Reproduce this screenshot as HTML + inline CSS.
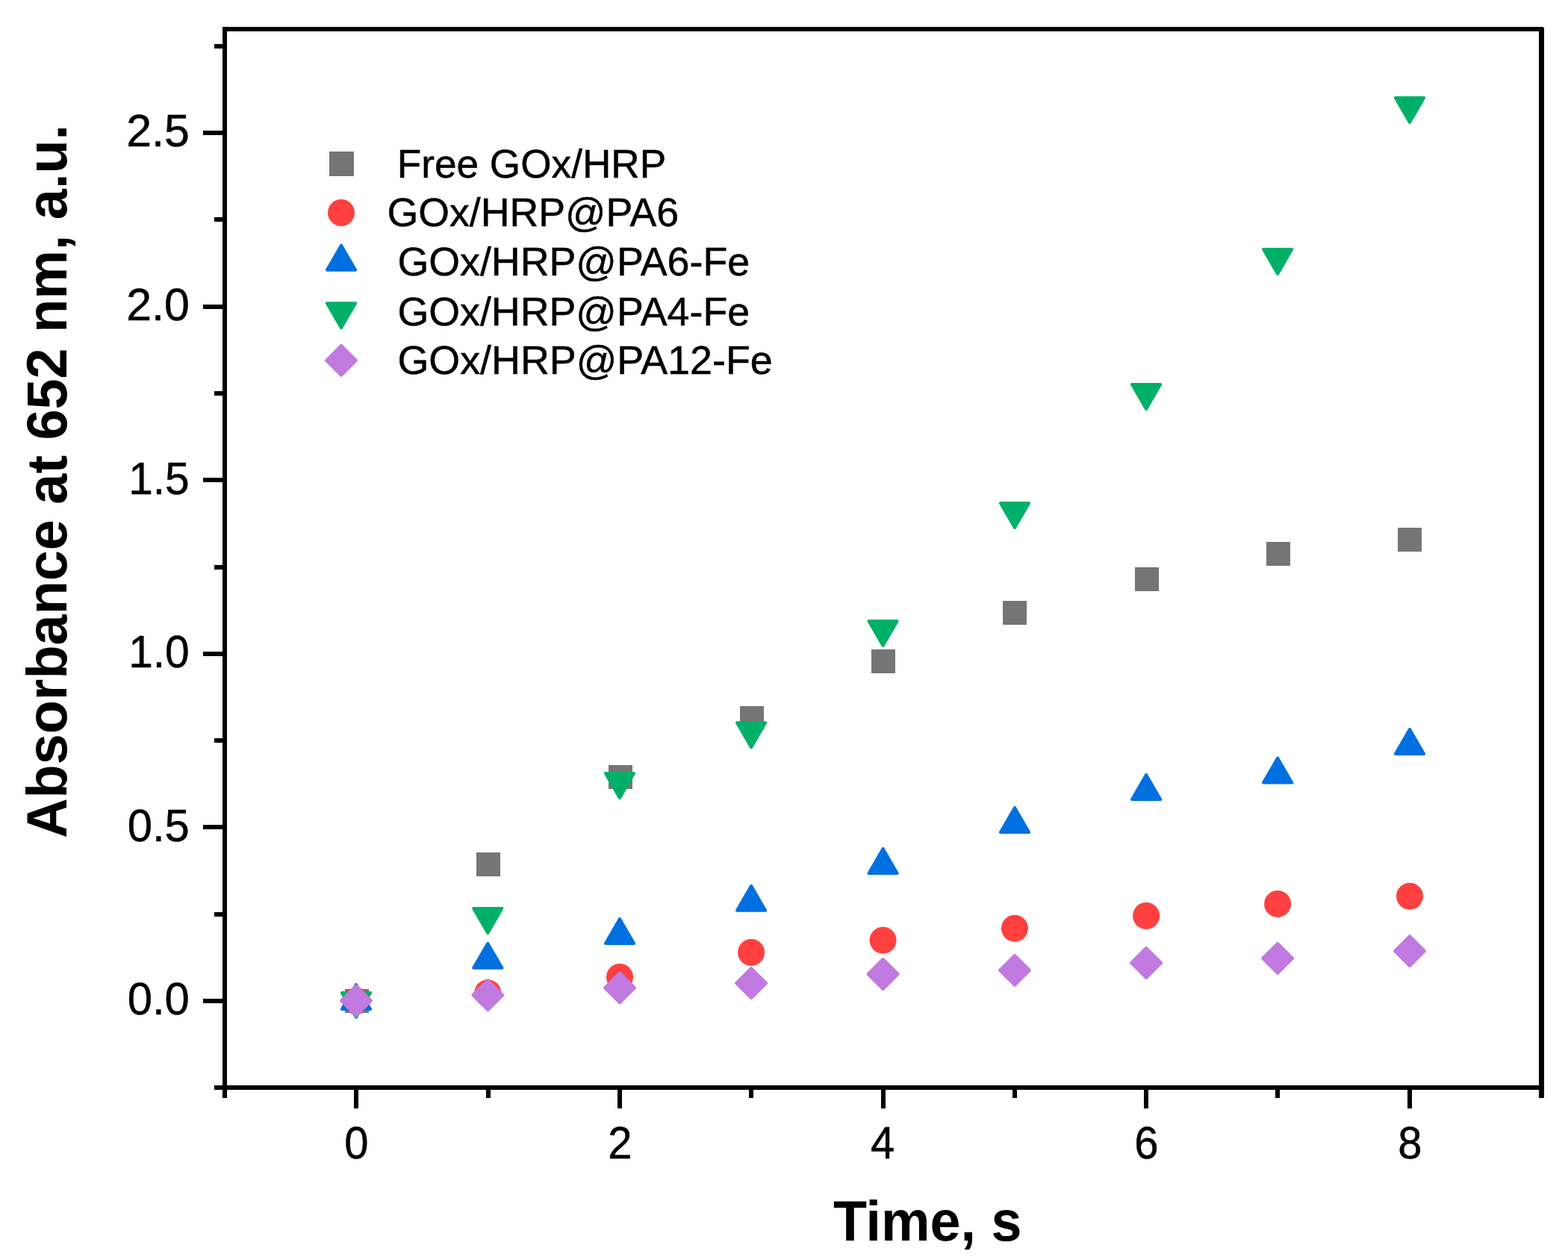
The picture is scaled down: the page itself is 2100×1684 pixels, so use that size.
<!DOCTYPE html>
<html lang="en"><head><meta charset="utf-8"><title>Absorbance at 652 nm vs Time</title>
<style>
html,body{margin:0;padding:0;background:#ffffff;}
body{width:2100px;height:1684px;}
svg{display:block;}
text{font-family:"Liberation Sans",sans-serif;fill:#000;}
.tick{font-size:60.4px;stroke:#000;stroke-width:0.5px;}
.leg text{stroke:#000;stroke-width:0.5px;}
.leg{font-size:54.5px;}
.title{font-size:76.5px;font-weight:bold;}
</style></head><body>
<svg width="2100" height="1684" viewBox="0 0 2100 1684">
<rect x="0" y="0" width="2100" height="1684" fill="#ffffff"/>
<g fill="#000" shape-rendering="crispEdges">
<rect x="298" y="36" width="6" height="1435"/>
<rect x="2061" y="37" width="7" height="1434"/>
<rect x="298" y="36" width="1769" height="6"/>
<rect x="287" y="1454" width="1781" height="6"/>
<rect x="272" y="1338" width="27" height="6"/>
<rect x="272" y="1105" width="27" height="6"/>
<rect x="272" y="873" width="27" height="6"/>
<rect x="272" y="640" width="27" height="6"/>
<rect x="272" y="408" width="27" height="6"/>
<rect x="272" y="175" width="27" height="6"/>
<rect x="287" y="1222" width="12" height="6"/>
<rect x="287" y="989" width="12" height="6"/>
<rect x="287" y="757" width="12" height="6"/>
<rect x="287" y="524" width="12" height="6"/>
<rect x="287" y="291" width="12" height="6"/>
<rect x="287" y="59" width="12" height="6"/>
<rect x="474" y="1459" width="6" height="26"/>
<rect x="827" y="1459" width="6" height="26"/>
<rect x="1180" y="1459" width="6" height="26"/>
<rect x="1532" y="1459" width="6" height="26"/>
<rect x="1885" y="1459" width="6" height="26"/>
<rect x="651" y="1459" width="6" height="12"/>
<rect x="1003" y="1459" width="6" height="12"/>
<rect x="1356" y="1459" width="6" height="12"/>
<rect x="1708" y="1459" width="6" height="12"/>
</g>
<g class="tick">
<text transform="translate(253.8,1359.3) scale(0.99,1)" text-anchor="end">0.0</text>
<text transform="translate(253.8,1126.7) scale(0.99,1)" text-anchor="end">0.5</text>
<text transform="translate(253.7,894.1) scale(0.971,1)" text-anchor="end">1.0</text>
<text transform="translate(253.7,661.5) scale(0.971,1)" text-anchor="end">1.5</text>
<text transform="translate(253.8,428.9) scale(1.007,1)" text-anchor="end">2.0</text>
<text transform="translate(253.8,196.3) scale(1.007,1)" text-anchor="end">2.5</text>
<text transform="translate(477.4,1551.8) scale(0.96,1)" text-anchor="middle">0</text>
<text transform="translate(830.4,1551.8) scale(0.96,1)" text-anchor="middle">2</text>
<text transform="translate(1182.2,1551.8) scale(0.96,1)" text-anchor="middle">4</text>
<text transform="translate(1535.4,1551.8) scale(0.96,1)" text-anchor="middle">6</text>
<text transform="translate(1888.4,1551.8) scale(0.96,1)" text-anchor="middle">8</text>
</g>
<text class="title" transform="translate(1115.9,1662) scale(0.963,1)">Time, s</text>
<text class="title" transform="translate(89.1,1122.7) rotate(-90) scale(0.965,1)">Absorbance at 652 nm, a.u.</text>
<g>
<rect x="462" y="1325" width="32" height="32" fill="#757575"/>
<rect x="638" y="1142" width="32" height="32" fill="#757575"/>
<rect x="815" y="1025" width="32" height="32" fill="#757575"/>
<rect x="991" y="946" width="32" height="32" fill="#757575"/>
<rect x="1167" y="870" width="32" height="32" fill="#757575"/>
<rect x="1343" y="805" width="32" height="32" fill="#757575"/>
<rect x="1520" y="760" width="32" height="32" fill="#757575"/>
<rect x="1696" y="726" width="32" height="32" fill="#757575"/>
<rect x="1872" y="707" width="32" height="32" fill="#757575"/>
<circle cx="477.0" cy="1341.0" r="18" fill="#ff4040"/>
<circle cx="653.3" cy="1330.3" r="18" fill="#ff4040"/>
<circle cx="830.0" cy="1308.9" r="18" fill="#ff4040"/>
<circle cx="1006.1" cy="1276.0" r="18" fill="#ff4040"/>
<circle cx="1182.6" cy="1259.7" r="18" fill="#ff4040"/>
<circle cx="1359.0" cy="1243.7" r="18" fill="#ff4040"/>
<circle cx="1535.1" cy="1226.9" r="18" fill="#ff4040"/>
<circle cx="1711.1" cy="1210.9" r="18" fill="#ff4040"/>
<circle cx="1888.0" cy="1200.7" r="18" fill="#ff4040"/>
<polygon points="477.0,1319.0 496.1,1352.0 457.9,1352.0" fill="#0070e0" stroke="#0070e0" stroke-width="4.0" stroke-linejoin="round"/>
<polygon points="653.3,1263.8 672.4,1296.8 634.2,1296.8" fill="#0070e0" stroke="#0070e0" stroke-width="4.0" stroke-linejoin="round"/>
<polygon points="830.0,1230.9 849.1,1263.9 810.9,1263.9" fill="#0070e0" stroke="#0070e0" stroke-width="4.0" stroke-linejoin="round"/>
<polygon points="1006.1,1186.8 1025.2,1219.8 987.0,1219.8" fill="#0070e0" stroke="#0070e0" stroke-width="4.0" stroke-linejoin="round"/>
<polygon points="1182.6,1136.9 1201.7,1169.9 1163.5,1169.9" fill="#0070e0" stroke="#0070e0" stroke-width="4.0" stroke-linejoin="round"/>
<polygon points="1359.0,1081.9 1378.1,1114.9 1339.9,1114.9" fill="#0070e0" stroke="#0070e0" stroke-width="4.0" stroke-linejoin="round"/>
<polygon points="1535.1,1037.9 1554.2,1070.9 1516.0,1070.9" fill="#0070e0" stroke="#0070e0" stroke-width="4.0" stroke-linejoin="round"/>
<polygon points="1711.1,1015.6 1730.2,1048.6 1692.0,1048.6" fill="#0070e0" stroke="#0070e0" stroke-width="4.0" stroke-linejoin="round"/>
<polygon points="1888.0,977.0 1907.1,1010.0 1868.9,1010.0" fill="#0070e0" stroke="#0070e0" stroke-width="4.0" stroke-linejoin="round"/>
<polygon points="457.9,1330.0 496.1,1330.0 477.0,1363.0" fill="#00b068" stroke="#00b068" stroke-width="4.0" stroke-linejoin="round"/>
<polygon points="634.2,1217.1 672.4,1217.1 653.3,1250.1" fill="#00b068" stroke="#00b068" stroke-width="4.0" stroke-linejoin="round"/>
<polygon points="810.9,1036.1 849.1,1036.1 830.0,1069.1" fill="#00b068" stroke="#00b068" stroke-width="4.0" stroke-linejoin="round"/>
<polygon points="987.0,968.2 1025.2,968.2 1006.1,1001.2" fill="#00b068" stroke="#00b068" stroke-width="4.0" stroke-linejoin="round"/>
<polygon points="1163.5,832.0 1201.7,832.0 1182.6,865.0" fill="#00b068" stroke="#00b068" stroke-width="4.0" stroke-linejoin="round"/>
<polygon points="1339.9,674.0 1378.1,674.0 1359.0,707.0" fill="#00b068" stroke="#00b068" stroke-width="4.0" stroke-linejoin="round"/>
<polygon points="1516.0,515.0 1554.2,515.0 1535.1,548.0" fill="#00b068" stroke="#00b068" stroke-width="4.0" stroke-linejoin="round"/>
<polygon points="1692.0,334.1 1730.2,334.1 1711.1,367.1" fill="#00b068" stroke="#00b068" stroke-width="4.0" stroke-linejoin="round"/>
<polygon points="1868.9,131.1 1907.1,131.1 1888.0,164.1" fill="#00b068" stroke="#00b068" stroke-width="4.0" stroke-linejoin="round"/>
<polygon points="477.0,1320.7 497.0,1340.7 477.0,1360.7 457.0,1340.7" fill="#c07ae0" stroke="#c07ae0" stroke-width="4.0" stroke-linejoin="round"/>
<polygon points="653.3,1313.1 673.3,1333.1 653.3,1353.1 633.3,1333.1" fill="#c07ae0" stroke="#c07ae0" stroke-width="4.0" stroke-linejoin="round"/>
<polygon points="830.0,1303.3 850.0,1323.3 830.0,1343.3 810.0,1323.3" fill="#c07ae0" stroke="#c07ae0" stroke-width="4.0" stroke-linejoin="round"/>
<polygon points="1006.1,1297.1 1026.1,1317.1 1006.1,1337.1 986.1,1317.1" fill="#c07ae0" stroke="#c07ae0" stroke-width="4.0" stroke-linejoin="round"/>
<polygon points="1182.6,1285.0 1202.6,1305.0 1182.6,1325.0 1162.6,1305.0" fill="#c07ae0" stroke="#c07ae0" stroke-width="4.0" stroke-linejoin="round"/>
<polygon points="1359.0,1279.9 1379.0,1299.9 1359.0,1319.9 1339.0,1299.9" fill="#c07ae0" stroke="#c07ae0" stroke-width="4.0" stroke-linejoin="round"/>
<polygon points="1535.1,1270.0 1555.1,1290.0 1535.1,1310.0 1515.1,1290.0" fill="#c07ae0" stroke="#c07ae0" stroke-width="4.0" stroke-linejoin="round"/>
<polygon points="1711.1,1263.9 1731.1,1283.9 1711.1,1303.9 1691.1,1283.9" fill="#c07ae0" stroke="#c07ae0" stroke-width="4.0" stroke-linejoin="round"/>
<polygon points="1888.0,1254.1 1908.0,1274.1 1888.0,1294.1 1868.0,1274.1" fill="#c07ae0" stroke="#c07ae0" stroke-width="4.0" stroke-linejoin="round"/>
</g>
<g class="leg">
<rect x="441" y="203" width="33" height="33" fill="#757575"/>
<circle cx="457.0" cy="285.0" r="18" fill="#ff4040"/>
<polygon points="457.0,328.7 476.1,361.7 437.9,361.7" fill="#0070e0" stroke="#0070e0" stroke-width="4.0" stroke-linejoin="round"/>
<polygon points="437.9,406.3 476.1,406.3 457.0,439.3" fill="#00b068" stroke="#00b068" stroke-width="4.0" stroke-linejoin="round"/>
<polygon points="457.0,462.8 477.0,482.8 457.0,502.8 437.0,482.8" fill="#c07ae0" stroke="#c07ae0" stroke-width="4.0" stroke-linejoin="round"/>
<text transform="translate(531.8,237.8) scale(0.9755,1)">Free GOx/HRP</text>
<text transform="translate(518.4,302.8) scale(0.9855,1)">GOx/HRP@PA6</text>
<text transform="translate(532.4,368.8) scale(0.9865,1)">GOx/HRP@PA6-Fe</text>
<text transform="translate(532.4,435.5) scale(0.9865,1)">GOx/HRP@PA4-Fe</text>
<text transform="translate(532.4,500.8) scale(0.988,1)">GOx/HRP@PA12-Fe</text>
</g>
</svg></body></html>
